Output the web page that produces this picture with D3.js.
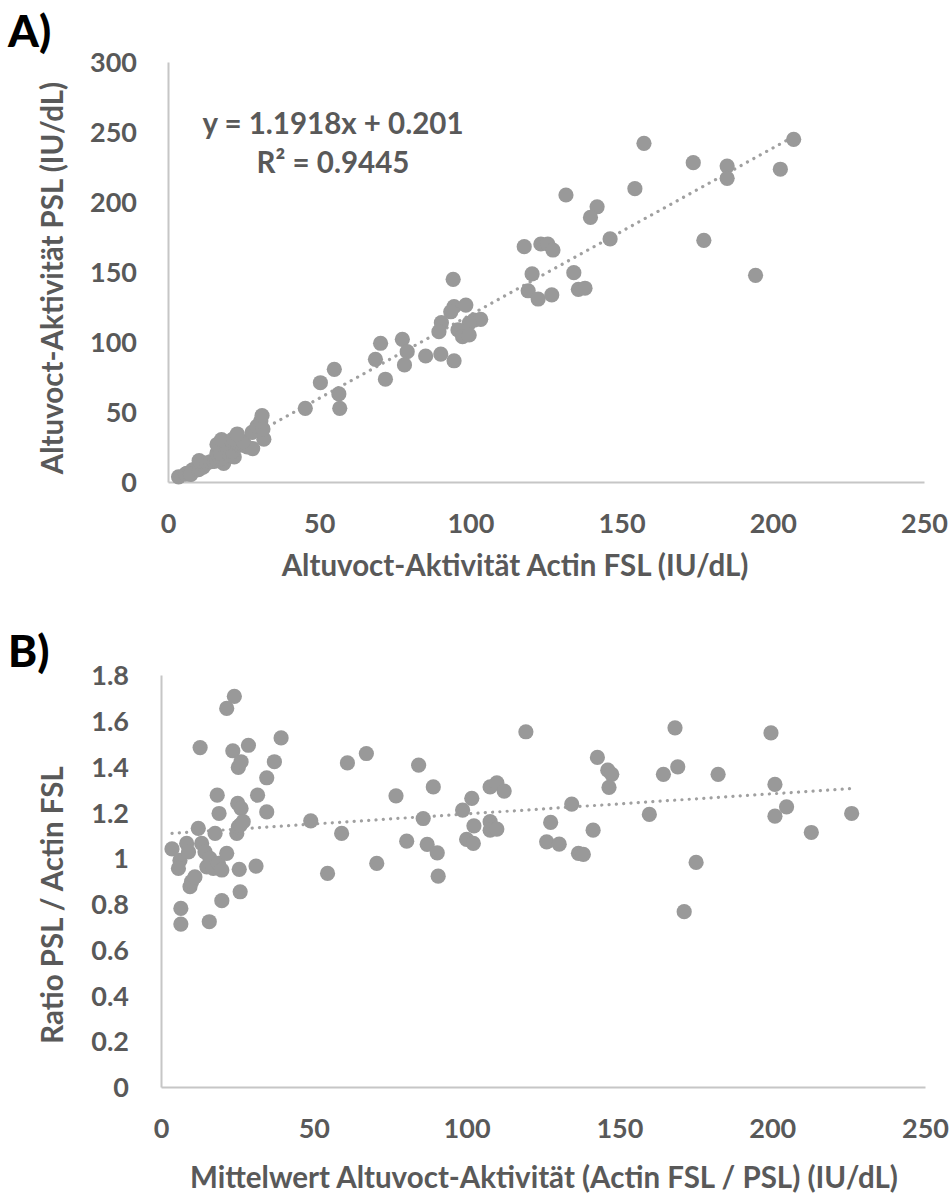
<!DOCTYPE html>
<html>
<head>
<meta charset="utf-8">
<script src="https://cdn.jsdelivr.net/npm/d3@7"></script>
<style>
  body { margin: 0; background: #fff; }
  svg text { font-family: Lato, "Open Sans", sans-serif; }
</style>
</head>
<body>
<svg id="chart" width="952" height="1196"></svg>
<script>
// 資料 A: Actin FSL vs PSL
const aActin = [3.5, 6.2, 5.8, 8.1, 8.9, 7.3, 7.6, 10.1, 10.5, 11.6, 11.5, 10.3, 12.9, 14.2, 15.3,
  18.4, 16.0, 17.5, 16.8, 16.2, 19.0, 17.3, 20.4, 21.9, 21.3, 16.2, 19.0, 17.7, 23.5, 22.4,
  23.7, 21.1, 26.2, 28.0, 24.2, 23.6, 21.6, 24.9, 22.9, 31.7, 27.8, 29.4, 31.4, 30.7, 31.1,
  157.4, 206.9, 173.7, 184.9, 184.9, 202.5, 131.6, 154.4, 141.9, 139.7, 117.8, 123.3, 125.6,
  127.3, 146.2, 177.2, 120.4, 134.2, 194.3, 119.1, 122.4, 126.9, 135.7, 137.9, 94.3, 94.6,
  98.5, 93.5, 101.2, 103.4, 99.6, 90.4, 89.6, 95.9, 97.4, 99.6, 70.3, 77.5, 79.1, 85.2, 90.2,
  94.6, 68.6, 78.2, 71.9, 55.0, 50.4, 56.5, 56.8, 45.4];
const aPSL = [3.7, 6.2, 5.6, 8.7, 9.1, 5.7, 5.4, 8.9, 9.5, 10.6, 12.9, 15.3, 13.7, 14.6, 14.7,
  13.3, 16.0, 16.7, 18.6, 20.6, 18.6, 20.7, 19.4, 17.9, 21.7, 26.8, 28.0, 30.3, 26.1, 27.8,
  26.9, 29.5, 25.0, 23.9, 27.6, 28.8, 30.8, 28.9, 34.3, 30.6, 35.4, 39.8, 37.8, 43.6, 47.5,
  241.9, 244.8, 228.1, 225.7, 216.9, 223.4, 205.0, 209.5, 196.6, 189.0, 168.1, 170.0, 170.0,
  165.7, 173.6, 172.6, 148.6, 149.5, 147.6, 136.6, 130.7, 133.6, 137.6, 138.4, 144.8, 125.2,
  126.4, 121.6, 115.7, 116.2, 113.4, 113.8, 107.4, 108.6, 103.8, 105.0, 99.1, 101.9, 93.1, 90.0, 91.4,
  86.6, 87.6, 83.6, 73.4, 80.5, 70.9, 62.9, 52.6, 52.6];

// 資料 B: Mittelwert vs Ratio
const bMean = [3.6, 6.2, 5.7, 8.4, 9.0, 6.5, 6.5, 9.5, 10.0, 11.1, 12.2, 12.8, 13.3, 14.4, 15.0,
  15.8, 16.0, 17.1, 17.7, 18.4, 18.8, 19.0, 19.9, 19.9, 21.5, 21.5, 23.5, 24.0, 24.8, 25.1,
  25.3, 25.3, 25.6, 25.9, 25.9, 26.2, 26.2, 26.9, 28.6, 31.1, 31.6, 34.6, 34.6, 37.1, 39.3,
  49.0, 54.5, 59.1, 61.0, 67.2, 70.6, 76.9, 80.4, 84.3, 85.8, 87.1, 89.1, 90.4, 90.7, 98.7,
  100.0, 101.7, 102.2, 102.4, 107.7, 107.7, 107.7, 109.9, 109.9, 112.3, 119.4, 126.2, 127.5,
  130.3, 134.4, 136.6, 138.2, 141.4, 142.8, 146.2, 147.5, 146.6, 159.8, 164.4, 168.2, 169.1,
  171.2, 175.1, 182.3, 199.6, 200.9, 200.9, 204.7, 212.8, 226.0];
const bRatio = [1.04, 0.99, 0.955, 1.064, 1.027, 0.78, 0.712, 0.875, 0.897, 0.918, 1.13, 1.483,
  1.064, 1.027, 0.962, 0.722, 0.999, 0.955, 1.108, 1.275, 0.977, 1.195, 0.948, 0.814, 1.021,
  1.654, 1.469, 1.707, 1.108, 1.239, 1.137, 1.396, 0.951, 0.853, 1.144, 1.217, 1.421, 1.159,
  1.493, 0.965, 1.275, 1.351, 1.202, 1.421, 1.525,
  1.163, 0.933, 1.108, 1.416, 1.457, 0.977, 1.272, 1.074, 1.406, 1.173, 1.06, 1.311, 1.023,
  0.921, 1.21, 1.082, 1.261, 1.064, 1.141, 1.311, 1.159, 1.122, 1.329, 1.127, 1.293, 1.552,
  1.071, 1.156, 1.061, 1.236, 1.021, 1.016, 1.122, 1.44, 1.384, 1.366, 1.309, 1.191, 1.366,
  1.569, 1.399, 0.766, 0.981, 1.366, 1.547, 1.322, 1.183, 1.224, 1.112, 1.195];

// 軸刻度
const ticksA_x = [0, 50, 100, 150, 200, 250];
const ticksA_y = [0, 50, 100, 150, 200, 250, 300];
const ticksB_x = [0, 50, 100, 150, 200, 250];
const ticksB_y = [0, 0.2, 0.4, 0.6, 0.8, 1, 1.2, 1.4, 1.6, 1.8];
const ticksB_yLabels = ["0", "0.2", "0.4", "0.6", "0.8", "1", "1.2", "1.4", "1.6", "1.8"];

// 趨勢線
const trendA = { slope: 1.1918, intercept: 0.201 };
const trendB = { slope: 0.00088, intercept: 1.105 };

const svg = d3.select("#chart");
const grey = "#595959";
const dotColor = "#999999";
const axisColor = "#c6c6c6";
const titleSize = "29.5px";

function panel(cfg) {
  const x = d3.scaleLinear().domain(cfg.xDomain).range(cfg.xRange);
  const y = d3.scaleLinear().domain(cfg.yDomain).range(cfg.yRange);
  const g = svg.append("g");

  // x 軸
  const xAxis = g.append("g")
    .attr("transform", "translate(0," + cfg.yRange[0] + ")")
    .call(d3.axisBottom(x).tickValues(cfg.xTicks).tickSize(0).tickFormat(d3.format("d")));
  xAxis.select(".domain").attr("stroke", axisColor).attr("stroke-width", 2);
  xAxis.selectAll("text")
    .attr("y", 51).attr("dy", null)
    .style("font-size", "27px").style("font-weight", "700").attr("fill", grey);

  // y 軸
  const yAxis = g.append("g")
    .attr("transform", "translate(" + cfg.xRange[0] + ",0)")
    .call(d3.axisLeft(y).tickValues(cfg.yTicks).tickSize(0).tickPadding(cfg.yPad)
      .tickFormat((d, i) => cfg.yLabels[i]));
  yAxis.select(".domain").attr("stroke", axisColor).attr("stroke-width", 2);
  yAxis.selectAll("text")
    .attr("dy", "0.36em")
    .style("font-size", "27px").style("font-weight", "700").attr("fill", grey);

  // 趨勢線
  const x0 = d3.min(cfg.xs), x1 = d3.max(cfg.xs);
  g.append("line")
    .attr("x1", x(x0)).attr("y1", y(cfg.trend.slope * x0 + cfg.trend.intercept))
    .attr("x2", x(x1)).attr("y2", y(cfg.trend.slope * x1 + cfg.trend.intercept))
    .attr("stroke", "#a0a0a0").attr("stroke-width", 3.2)
    .attr("stroke-linecap", "round").attr("stroke-dasharray", "0.1 7.2");

  // 點
  g.append("g").selectAll("circle")
    .data(d3.range(cfg.xs.length))
    .enter().append("circle")
    .attr("cx", i => x(cfg.xs[i]))
    .attr("cy", i => y(cfg.ys[i]))
    .attr("r", 7.6)
    .attr("fill", dotColor);

  // 軸標題
  g.append("text")
    .attr("x", cfg.xTitlePos[0]).attr("y", cfg.xTitlePos[1])
    .attr("text-anchor", "middle")
    .style("font-size", titleSize).style("font-weight", "700").attr("fill", grey)
    .text(cfg.xTitle);
  g.append("text")
    .attr("transform", "translate(" + cfg.yTitlePos[0] + "," + cfg.yTitlePos[1] + ") rotate(-90)")
    .attr("text-anchor", "middle")
    .style("font-size", titleSize).style("font-weight", "700").attr("fill", grey)
    .text(cfg.yTitle);

  // A) / B)
  g.append("text")
    .attr("x", 8).attr("y", cfg.labelY)
    .style("font-size", "44px").style("font-weight", "900").attr("fill", "#000")
    .text(cfg.label);
  return { g, x, y };
}

const A = panel({
  xs: aActin, ys: aPSL,
  xDomain: [0, 250], xRange: [168, 924],
  yDomain: [0, 300], yRange: [482, 62],
  xTicks: ticksA_x, yTicks: ticksA_y, yLabels: ticksA_y.map(String), yPad: 31,
  trend: trendA,
  xTitle: "Altuvoct-Aktivität Actin FSL (IU/dL)", xTitlePos: [515, 576],
  yTitle: "Altuvoct-Aktivität PSL (IU/dL)", yTitlePos: [63, 278],
  label: "A)", labelY: 47
});

// 方程式
A.g.append("text")
  .attr("x", 333).attr("y", 134).attr("text-anchor", "middle")
  .style("font-size", titleSize).style("font-weight", "700").attr("fill", grey)
  .text("y = 1.1918x + 0.201");
A.g.append("text")
  .attr("x", 333).attr("y", 173).attr("text-anchor", "middle")
  .style("font-size", titleSize).style("font-weight", "700").attr("fill", grey)
  .text("R² = 0.9445");

panel({
  xs: bMean, ys: bRatio,
  xDomain: [0, 250], xRange: [161, 925],
  yDomain: [0, 1.8], yRange: [1087, 675],
  xTicks: ticksB_x, yTicks: ticksB_y, yLabels: ticksB_yLabels, yPad: 32,
  trend: trendB,
  xTitle: "Mittelwert Altuvoct-Aktivität (Actin FSL / PSL) (IU/dL)", xTitlePos: [544, 1188],
  yTitle: "Ratio PSL / Actin FSL", yTitlePos: [63, 905],
  label: "B)", labelY: 667
});
</script>
</body>
</html>
